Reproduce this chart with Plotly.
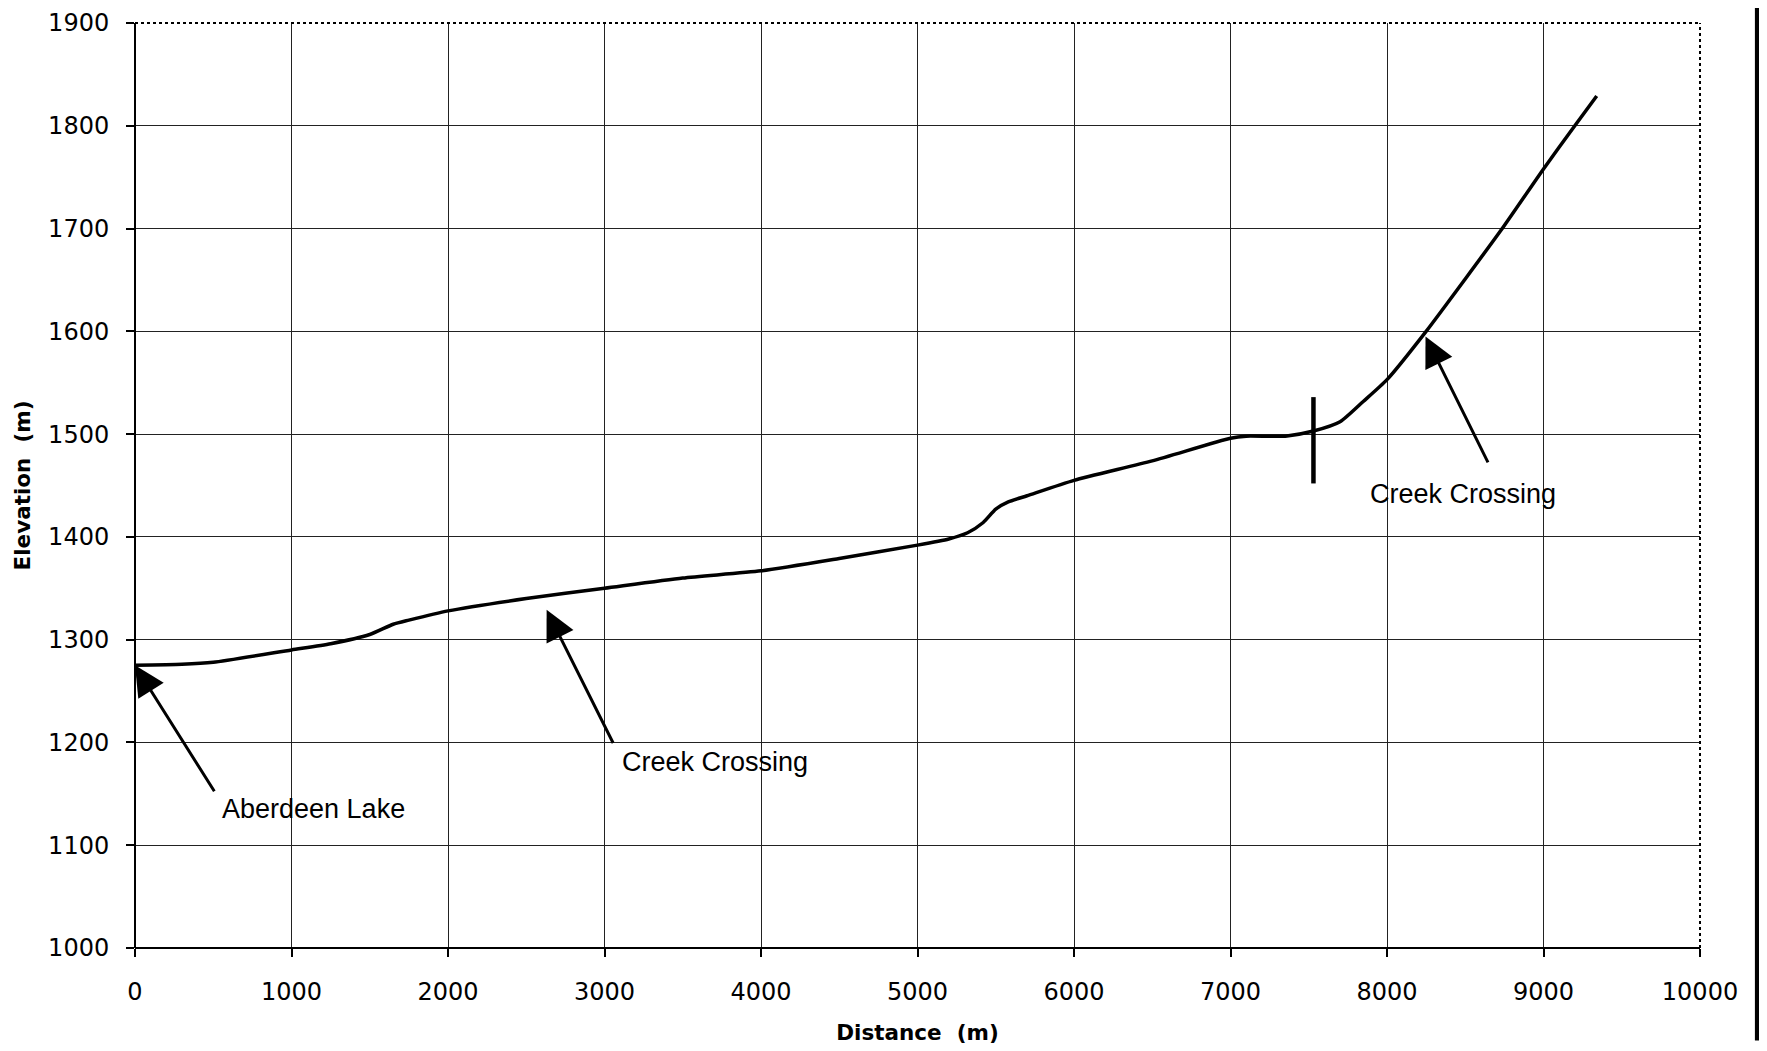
import plotly.graph_objects as go

# Elevation profile
distance_m = [0, 300, 500, 1000, 1250, 1500, 1650, 1750, 2000, 2500, 3000, 3500,
              4000, 4500, 5000, 5200, 5320, 5420, 5500, 5580, 5700, 6000, 6500,
              7000, 7100, 7350, 7530, 7700, 7850, 8000, 8250, 8500, 8750, 9000,
              9200, 9340]
elevation_m = [1275, 1276, 1278, 1290, 1296, 1305, 1315, 1319, 1328, 1340, 1350, 1360,
               1367, 1379, 1392, 1398, 1404, 1414, 1427, 1434, 1440, 1455, 1474,
               1496, 1498, 1498, 1503, 1512, 1532, 1553, 1600, 1651, 1703, 1758,
               1800, 1829]

# Vertical marker on the profile
marker_x = [7530, 7530]
marker_y = [1452, 1536]

# Annotations: label, text position, arrow tail, arrow tip
labels = ["Aberdeen Lake", "Creek Crossing", "Creek Crossing"]
label_x = [543, 3100, 7879]
label_y = [1135, 1181, 1442]
tail_x = [513, 3060, 8650]
tail_y = [1151, 1198, 1471]
tip_x = [0, 2630, 8246]
tip_y = [1275, 1329, 1595]

x_ticks = [0, 1000, 2000, 3000, 4000, 5000, 6000, 7000, 8000, 9000, 10000]
y_ticks = [1000, 1100, 1200, 1300, 1400, 1500, 1600, 1700, 1800, 1900]

fig = go.Figure()
fig.add_trace(go.Scatter(x=distance_m, y=elevation_m, mode="lines",
                         line=dict(color="black", width=3.5, shape="spline", smoothing=0.6),
                         showlegend=False, hoverinfo="x+y"))
fig.add_trace(go.Scatter(x=marker_x, y=marker_y, mode="lines",
                         line=dict(color="black", width=4.5),
                         showlegend=False, hoverinfo="skip"))

annotations = []
for t, lx, ly, ax, ay, px, py in zip(labels, label_x, label_y, tail_x, tail_y, tip_x, tip_y):
    annotations.append(dict(x=px, y=py, ax=ax, ay=ay, xref="x", yref="y",
                            axref="x", ayref="y", text="", showarrow=True,
                            arrowhead=2, arrowsize=2.0, arrowwidth=3, arrowcolor="black",
                            standoff=0, startstandoff=0))
    annotations.append(dict(x=lx, y=ly, xref="x", yref="y", text=t, showarrow=False,
                            xanchor="left", yanchor="middle",
                            font=dict(family="Liberation Sans, Arial", size=27, color="black")))

shapes = [
    dict(type="line", xref="paper", yref="paper", x0=0, x1=1, y0=1, y1=1,
         line=dict(color="black", width=2, dash="dot")),
    dict(type="line", xref="paper", yref="paper", x0=1, x1=1, y0=0, y1=1,
         line=dict(color="black", width=2, dash="dot")),
    dict(type="line", xref="paper", yref="paper", x0=0, x1=0, y0=0, y1=1,
         line=dict(color="black", width=2)),
    dict(type="line", xref="paper", yref="paper", x0=0, x1=1, y0=0, y1=0,
         line=dict(color="black", width=2)),
    # scanner edge artefact on the right
    dict(type="line", xref="paper", yref="paper", x0=1.037, x1=1.037, y0=-0.1, y1=1.03,
         line=dict(color="black", width=6)),
]

tick_font = dict(family="DejaVu Sans", size=24, color="black")
title_font = dict(family="DejaVu Sans", size=21.5, color="black", weight="bold")

fig.update_layout(
    width=1767, height=1051,
    margin=dict(l=127, r=75, t=15, b=111, autoexpand=False),
    paper_bgcolor="white", plot_bgcolor="white",
    annotations=annotations, shapes=shapes,
    xaxis=dict(range=[0, 10000], tickvals=x_ticks, ticktext=[str(v) for v in x_ticks],
               showgrid=True, gridcolor="#222222", gridwidth=1,
               ticks="outside", ticklen=8, tickcolor="black", tickwidth=1.5,
               ticklabelstandoff=14, tickfont=tick_font, zeroline=False,
               showline=False, ticklabeloverflow="allow", automargin=False,
               title=dict(text="Distance  (m)", font=title_font, standoff=20)),
    yaxis=dict(range=[1000, 1900], tickvals=y_ticks, ticktext=[str(v) for v in y_ticks],
               showgrid=True, gridcolor="#222222", gridwidth=1,
               ticks="outside", ticklen=8, tickcolor="black", tickwidth=1.5,
               ticklabelstandoff=12, tickfont=tick_font, zeroline=False,
               showline=False, ticklabeloverflow="allow", automargin=False,
               title=dict(text="Elevation  (m)", font=title_font, standoff=11)),
)

fig.write_html("out.html")
